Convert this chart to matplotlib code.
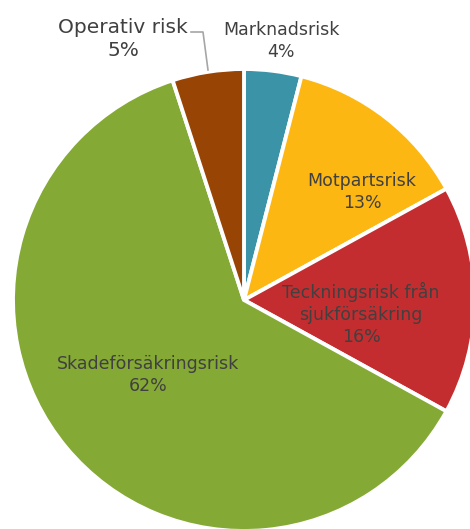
import matplotlib
matplotlib.use("Agg")
import matplotlib.pyplot as plt

labels = ["Marknadsrisk", "Motpartsrisk", "Teckningsrisk från\nsjukförsäkring",
          "Skadeförsäkringsrisk", "Operativ risk"]
shares = [4, 13, 16, 62, 5]
colors = ["#3A93A7", "#FDB713", "#C42D2F", "#84A935", "#984405"]

# label anchor positions in pixel coords (x, y from top)
label_pos = [(281, 41), (362, 192), (361, 314), (148, 375), (123, 39)]
label_size = [12.5, 12.5, 12.5, 12.5, 14.5]

W, H = 470, 529
fig = plt.figure(figsize=(W / 100, H / 100), dpi=100)
ax = fig.add_axes([0, 0, 1, 1])

cx, cy, r = 244, H - 300, 231
ax.pie(shares, colors=colors, startangle=90, counterclock=False,
       center=(cx, cy), radius=r, frame=True,
       wedgeprops=dict(edgecolor="white", linewidth=2.8))
ax.set_xlim(0, W)
ax.set_ylim(0, H)
ax.set_aspect("equal")
ax.axis("off")

for lab, val, (x, y), fs in zip(labels, shares, label_pos, label_size):
    ax.text(x, H - y, f"{lab}\n{val}%", ha="center", va="center",
            fontsize=fs, color="#404040", family="DejaVu Sans",
            linespacing=1.28)

# leader line for Operativ risk
ax.plot([191, 203, 208], [H - 32, H - 32, H - 70], color="#A6A6A6", lw=1.2)

fig.savefig("out.png", dpi=100)
